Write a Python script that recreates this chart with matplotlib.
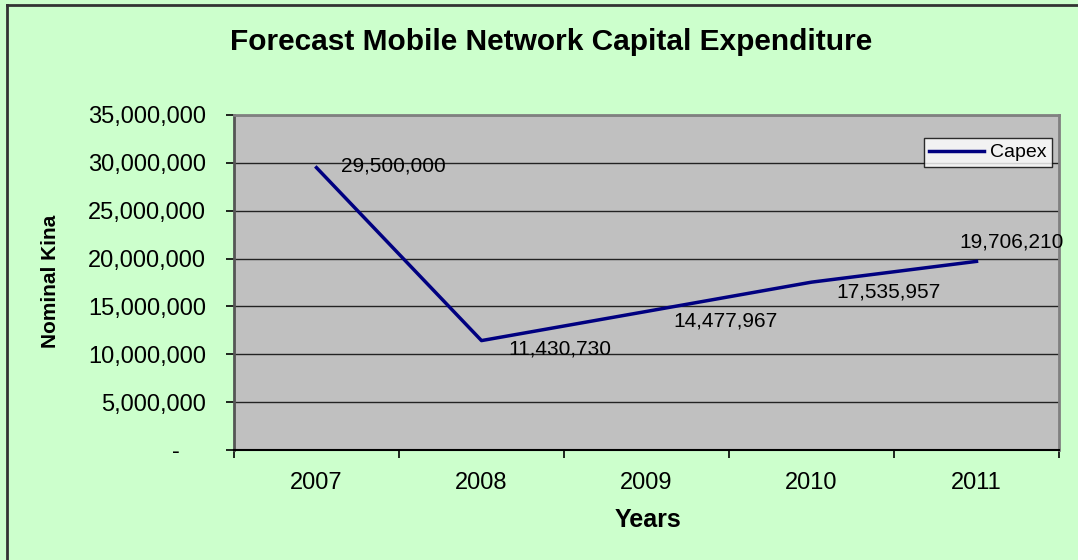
import matplotlib
matplotlib.use("Agg")
import matplotlib.pyplot as plt
from matplotlib.lines import Line2D
from matplotlib.ticker import FuncFormatter, MultipleLocator

plt.rcParams['font.family'] = ['Liberation Sans', 'DejaVu Sans']

years = ['2007', '2008', '2009', '2010', '2011']
capex = [29500000, 11430730, 14477967, 17535957, 19706210]
series_name = 'Capex'
title = 'Forecast Mobile Network Capital Expenditure'
xlabel = 'Years'
ylabel = 'Nominal Kina'

# label offsets in pixels (dx, dy), style only
label_offsets = [(25, 2), (27, -8), (27, -10), (25, -10), (-17, 19)]

W, H = 1078, 560
fig = plt.figure(figsize=(W / 100, H / 100), dpi=100)
fig.patch.set_facecolor('#CCFFCC')

# figure border (top and left visible)
fig.add_artist(Line2D([7 / W, 1], [1 - 4.5 / H, 1 - 4.5 / H], transform=fig.transFigure,
                      color='#333333', lw=2.0))
fig.add_artist(Line2D([7 / W, 7 / W], [0, 1 - 4.5 / H], transform=fig.transFigure,
                      color='#333333', lw=2.0))

left, right, top, bottom = 234, 1059, 115, 450
ax = fig.add_axes([left / W, 1 - bottom / H, (right - left) / W, (bottom - top) / H])
ax.set_facecolor('#C0C0C0')

x = list(range(len(years)))
ax.plot(x, capex, color='#000080', lw=2.5, label=series_name, zorder=3)

ax.set_xlim(-0.5, len(years) - 0.5)
ax.set_ylim(0, 35000000)
ax.yaxis.set_major_locator(MultipleLocator(5000000))
ax.yaxis.set_major_formatter(FuncFormatter(lambda v, p: '-    ' if v == 0 else f'{int(v):,}'))
ax.grid(axis='y', color='#222222', lw=1.0)
ax.set_axisbelow(True)

ax.set_xticks(x)
ax.set_xticklabels(years)
ax.set_xticks([i - 0.5 for i in range(len(years) + 1)], minor=True)
ax.tick_params(axis='x', which='major', length=0, pad=16, labelsize=17)
ax.tick_params(axis='x', which='minor', length=6, width=1.2, direction='out', color='black')
ax.tick_params(axis='y', length=6, width=1.2, direction='out', pad=14, labelsize=17)

for side in ['top', 'right']:
    ax.spines[side].set_color('#808080')
    ax.spines[side].set_linewidth(2)
ax.spines['left'].set_color('#555555')
ax.spines['left'].set_linewidth(2)
ax.spines['bottom'].set_color('black')
ax.spines['bottom'].set_linewidth(1.5)

for i, v in enumerate(capex):
    dx, dy = label_offsets[i]
    ax.annotate(f'{v:,}', (x[i], v), xytext=(dx, dy), textcoords='offset pixels',
                ha='left', va='center', fontsize=15, color='black', zorder=4,
                annotation_clip=False)

fig.text(551 / W, 1 - 42 / H, title, ha='center', va='center', fontsize=21.5,
         fontweight='bold')
fig.text(648 / W, 1 - 520 / H, xlabel, ha='center', va='center', fontsize=18,
         fontweight='bold')
fig.text(51 / W, 1 - 281 / H, ylabel, ha='center', va='center', fontsize=15,
         fontweight='bold', rotation=90)

leg = ax.legend(loc='upper right', bbox_to_anchor=((1052 - left) / (right - left), 1 - (138 - top) / (bottom - top)),
                frameon=True, fancybox=False, fontsize=14, handlelength=2.8,
                borderpad=0.3, handletextpad=0.3, borderaxespad=0)
leg.get_frame().set_edgecolor('black')
leg.get_frame().set_facecolor('white')
leg.get_frame().set_linewidth(1.0)

fig.savefig('out.png', dpi=100, facecolor=fig.get_facecolor())
